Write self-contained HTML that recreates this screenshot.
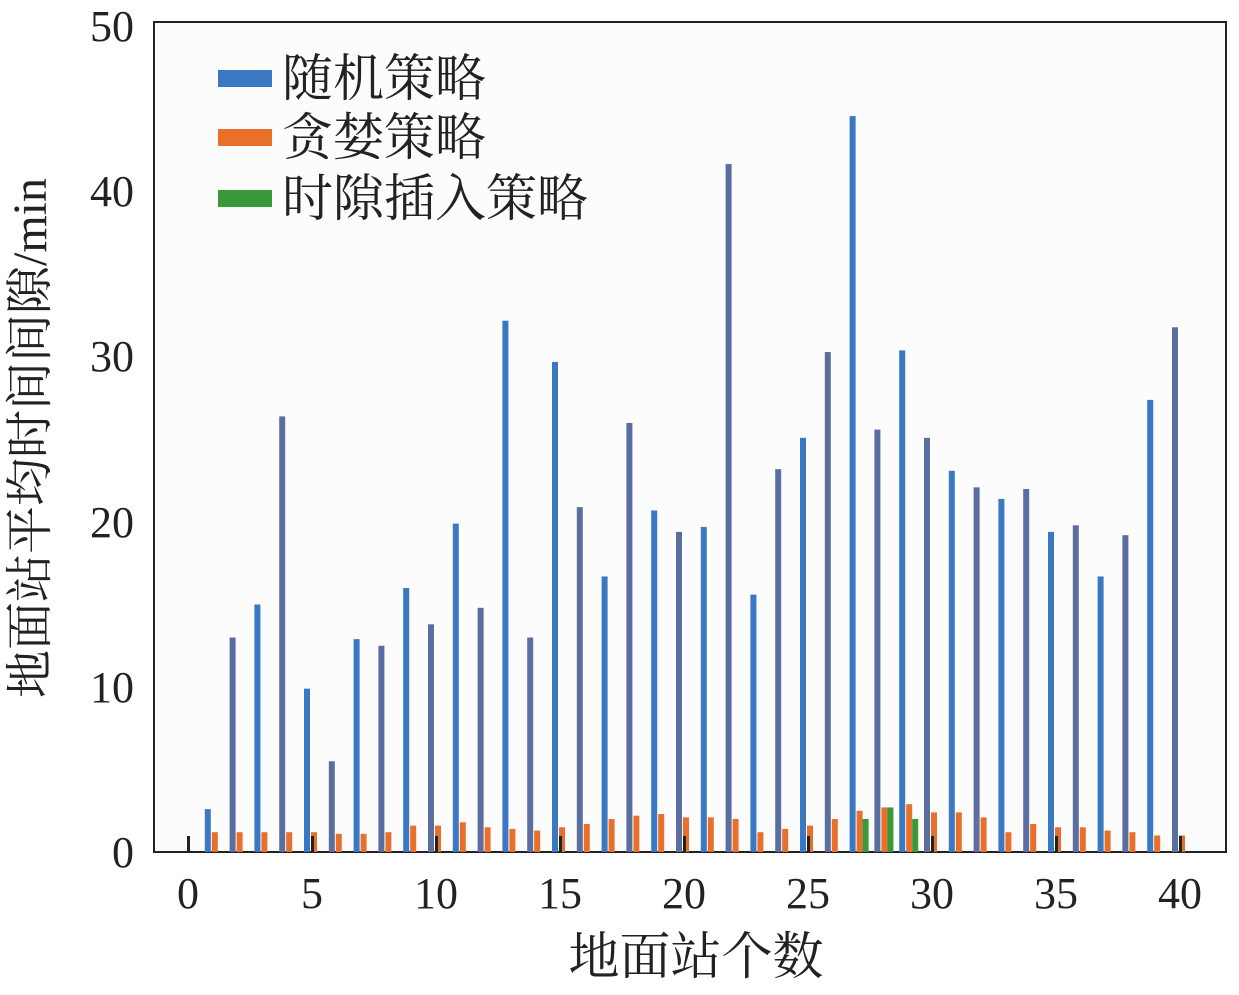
<!DOCTYPE html>
<html><head><meta charset="utf-8"><style>
body{margin:0;background:#fff}
text{font-family:"Liberation Serif","Noto Serif CJK SC",serif;fill:#222}
</style></head><body>
<svg width="1239" height="990" xmlns="http://www.w3.org/2000/svg">
<rect x="154" y="22" width="1072" height="830" fill="#fcfcfc" stroke="#222" stroke-width="2"/>
<g id="bars"></g>
<g font-size="44" text-anchor="middle">
<text x="188" y="908">0</text><text x="312" y="908">5</text><text x="436" y="908">10</text><text x="560" y="908">15</text><text x="684" y="908">20</text><text x="808" y="908">25</text><text x="932" y="908">30</text><text x="1056" y="908">35</text><text x="1180" y="908">40</text>
</g>
<g font-size="44" text-anchor="end">
<text x="134" y="867">0</text><text x="134" y="702">10</text><text x="134" y="537">20</text><text x="134" y="371">30</text><text x="134" y="206">40</text><text x="134" y="41">50</text>
</g>
<text x="696" y="974" font-size="51" text-anchor="middle">地面站个数</text>
<text transform="translate(46,438) rotate(-90)" font-size="48" text-anchor="middle">地面站平均时间间隙/min</text>
<rect x="218" y="70" width="54" height="17" fill="#3a78c4"/>
<rect x="218" y="129" width="54" height="17" fill="#e8702a"/>
<rect x="218" y="190" width="54" height="17" fill="#3a9a3a"/>
<g font-size="51"><text x="282" y="96">随机策略</text><text x="282" y="155">贪婪策略</text><text x="282" y="216">时隙插入策略</text></g>
</svg>
<script>
var b=[2.6,13,15,26.4,9.9,5.5,12.9,12.5,16,13.8,19.9,14.8,32.2,13,29.7,20.9,16.7,26,20.7,19.4,19.7,41.7,15.6,23.2,25.1,30.3,44.6,25.6,30.4,25.1,23.1,22.1,21.4,22,19.4,19.8,16.7,19.2,27.4,31.8];
var o=[1.2,1.2,1.2,1.2,1.2,1.1,1.1,1.2,1.6,1.6,1.8,1.5,1.4,1.3,1.5,1.7,2.0,2.2,2.3,2.1,2.1,2.0,1.2,1.4,1.6,2.0,2.5,2.7,2.9,2.4,2.4,2.1,1.2,1.7,1.5,1.5,1.3,1.2,1.0,1.0];
var g={27:2.0,28:2.7,29:2.0};
var s='',X=function(n){return 188+n*24.8},Y=function(v){return 852-v*16.5};
for(var i=0;i<40;i++){var n=i+1,x=X(n);
s+='<rect x="'+(x-8)+'" y="'+Y(b[i])+'" width="6" height="'+(b[i]*16.5)+'" fill="'+(n%2?'#3a78c4':'#5a6fa0')+'"/>';
s+='<rect x="'+(x-1)+'" y="'+Y(o[i])+'" width="6" height="'+(o[i]*16.5)+'" fill="#e8702a"/>';
if(g[n])s+='<rect x="'+(x+5)+'" y="'+Y(g[n])+'" width="6" height="'+(g[n]*16.5)+'" fill="#3a9a3a"/>';}
for(var n=0;n<=40;n+=5)s+='<rect x="'+(X(n)-1)+'" y="836" width="3" height="16" fill="#222"/>';
document.getElementById('bars').innerHTML=s;
</script>
</body></html>
